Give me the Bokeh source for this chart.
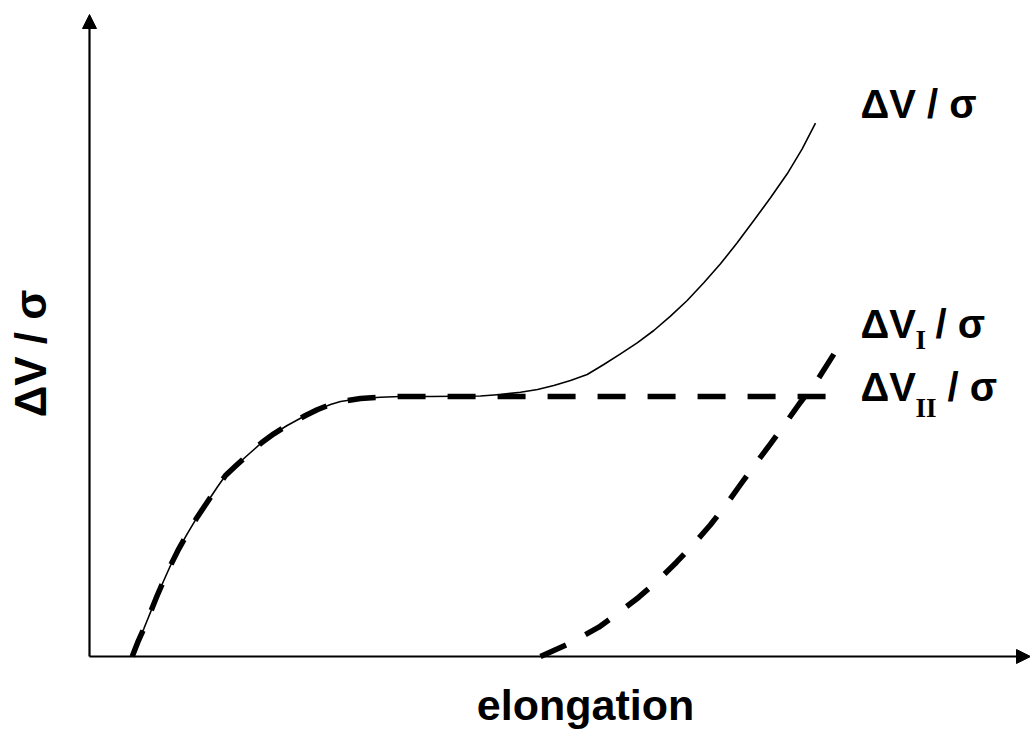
from bokeh.plotting import figure
from bokeh.models import Range1d, Arrow, NormalHead, Label
from bokeh.embed import file_html
from bokeh.resources import INLINE
import math

# ---- data (elongation in arbitrary units, dV/sigma in arbitrary units) ----
rise_x = [4.27, 4.83, 5.43, 6.1, 6.77, 7.43, 8.1, 8.93, 9.77, 10.77, 11.77, 12.77, 13.6,
          14.77, 15.77, 17.27, 18.43, 19.77, 21.6, 22.77, 24.1, 25.1, 27.1, 29.1, 31.1, 34.1]
rise_y = [0.0, 1.43, 2.77, 4.43, 6.1, 7.6, 9.1, 10.77, 12.27, 13.93, 15.43, 16.93, 18.1,
          19.2, 20.1, 21.43, 22.27, 23.1, 24.1, 24.67, 25.2, 25.5, 25.8, 25.93, 26.0, 26.0]

total_tail_x = [39.1, 41.1, 43.1, 44.8, 46.43, 48.1, 49.77, 51.43, 53.1, 54.77, 56.43, 58.1,
                59.77, 61.43, 63.1, 64.77, 66.43, 68.1, 69.77, 71.27, 72.6]
total_tail_y = [26.05, 26.2, 26.43, 26.7, 27.1, 27.6, 28.2, 29.2, 30.27, 31.37, 32.6, 34.03,
                35.6, 37.37, 39.27, 41.37, 43.6, 45.87, 48.27, 50.77, 53.33]

plateau_end_x = [74.77]
plateau_end_y = [26.0]

dv1_x = [45.1, 46.43, 47.77, 49.43, 50.93, 52.77, 54.93, 56.77, 58.7, 60.43, 62.1,
         63.6, 65.1, 66.6, 68.1, 69.6, 71.1, 72.77, 74.77]
dv1_y = [0.0, 0.6, 1.2, 2.1, 2.93, 4.27, 5.93, 7.53, 9.43, 11.27, 13.17,
         15.1, 17.2, 19.27, 21.27, 23.33, 25.43, 27.6, 30.77]

axis_x_max = 94.1
axis_y_max = 64.2

total_x = rise_x + total_tail_x
total_y = rise_y + total_tail_y
dv2_x = rise_x + plateau_end_x
dv2_y = rise_y + plateau_end_y

p = figure(width=1030, height=734, output_backend="svg", toolbar_location=None,
           x_range=Range1d(-8.9, 94.1), y_range=Range1d(-7.8, 65.6),
           x_axis_location=None, y_axis_location=None, min_border=0)
p.outline_line_color = None
p.xgrid.visible = False
p.ygrid.visible = False

# axes with arrows
p.add_layout(Arrow(end=NormalHead(size=14, fill_color="black", line_color="black", line_width=1),
                   x_start=0, y_start=0, x_end=axis_x_max, y_end=0,
                   line_width=2.2, line_color="black"))
p.add_layout(Arrow(end=NormalHead(size=14, fill_color="black", line_color="black", line_width=1),
                   x_start=0, y_start=0, x_end=0, y_end=axis_y_max,
                   line_width=2.2, line_color="black"))

# curves
p.line(total_x, total_y, line_color="black", line_width=1.6, line_join="round")
p.line(dv2_x, dv2_y, line_color="black", line_width=5.5, line_dash="28 22", line_cap="butt",
       line_join="round")
p.line(dv1_x, dv1_y, line_color="black", line_width=5.5, line_dash="28 22", line_cap="butt",
       line_join="round")

sans = "Liberation Sans"
serif = "Liberation Serif"

def lab(x, y, t, size, font=sans, align="left", angle=0.0, baseline="alphabetic"):
    p.add_layout(Label(x=x, y=y, text=t, text_font=font, text_font_style="bold",
                       text_font_size=f"{size}px", text_color="black",
                       text_align=align, text_baseline=baseline, angle=angle))

# axis titles
lab(49.6, -4.8, "elongation", 43, align="center")
lab(-5.86, 30.3, "ΔV / σ", 44, align="center", angle=math.pi / 2)

# curve labels
lab(77.1, 55.3, "ΔV / σ", 40)
lab(77.1, 33.3, "ΔV", 40)
lab(82.6, 31.7, "I", 27, font=serif)
lab(84.6, 33.3, "/ σ", 40)
lab(77.1, 27.0, "ΔV", 40)
lab(82.6, 24.9, "II", 27, font=serif)
lab(85.8, 27.0, "/ σ", 40)

open("out.html", "w").write(file_html(p, INLINE))
